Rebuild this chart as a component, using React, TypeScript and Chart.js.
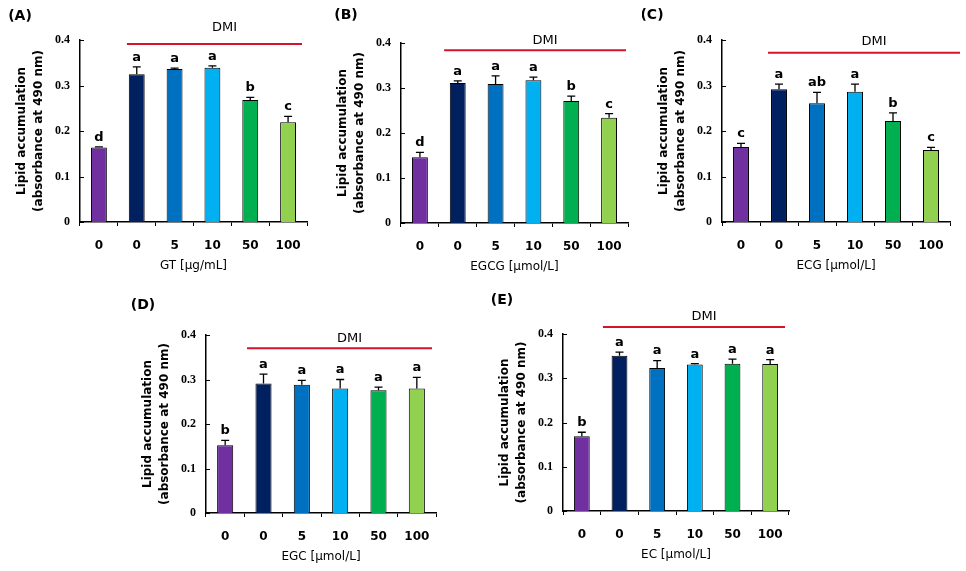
import React, { useEffect, useRef } from "react";
import { Chart, registerables } from "chart.js";

Chart.register(...registerables);

// ---------- data ----------
const categories = ["0", "0", "5", "10", "50", "100"];
const barColors = ["#7030A0", "#002060", "#0070C0", "#00B0F0", "#00B050", "#92D050"];
const yTicks = [0, 0.1, 0.2, 0.3, 0.4];
const yTickLabels = ["0", "0.1", "0.2", "0.3", "0.4"];

const gtMeans = [0.164, 0.325, 0.336, 0.339, 0.268, 0.219];
const gtErrors = [0.001, 0.016, 0.002, 0.004, 0.006, 0.013];
const gtLetters = ["d", "a", "a", "a", "b", "c"];

const egcgMeans = [0.146, 0.311, 0.309, 0.317, 0.271, 0.234];
const egcgErrors = [0.011, 0.005, 0.018, 0.007, 0.011, 0.009];
const egcgLetters = ["d", "a", "a", "a", "b", "c"];

const ecgMeans = [0.165, 0.292, 0.261, 0.286, 0.222, 0.158];
const ecgErrors = [0.008, 0.011, 0.024, 0.017, 0.018, 0.006];
const ecgLetters = ["c", "a", "ab", "a", "b", "c"];

const egcMeans = [0.152, 0.291, 0.288, 0.28, 0.276, 0.28];
const egcErrors = [0.011, 0.021, 0.01, 0.02, 0.007, 0.025];
const egcLetters = ["b", "a", "a", "a", "a", "a"];

const ecMeans = [0.169, 0.351, 0.323, 0.331, 0.333, 0.332];
const ecErrors = [0.009, 0.008, 0.017, 0.002, 0.01, 0.01];
const ecLetters = ["b", "a", "a", "a", "a", "a"];

const dmiLevels = [0.391, 0.384, 0.372, 0.37, 0.416];

// ---------- layout ----------
const PAD_L = 80;
const PAD_T = 45;
const PAD_R = 20;
const PAD_B = 55;

type PanelCfg = {
  label: string;
  xTitle: string;
  means: number[];
  errors: number[];
  letters: string[];
  dmiLevel: number;
  area: [number, number, number, number];
  labelPos: [number, number];
  dmiStart: number;
  dmiEndPx: number;
  dmiGap: number;
};

const panels: PanelCfg[] = [
  { label: "(A)", xTitle: "GT [µg/mL]", means: gtMeans, errors: gtErrors, letters: gtLetters, dmiLevel: dmiLevels[0],
    area: [80, 40, 307, 222], labelPos: [20, 16], dmiStart: 0.74, dmiEndPx: -5, dmiGap: 16 },
  { label: "(B)", xTitle: "EGCG [µmol/L]", means: egcgMeans, errors: egcgErrors, letters: egcgLetters, dmiLevel: dmiLevels[1],
    area: [401, 43, 628, 223], labelPos: [346, 15], dmiStart: 0.64, dmiEndPx: -2, dmiGap: 10 },
  { label: "(C)", xTitle: "ECG [µmol/L]", means: ecgMeans, errors: ecgErrors, letters: ecgLetters, dmiLevel: dmiLevels[2],
    area: [722, 40, 950, 222], labelPos: [652, 15], dmiStart: 0.71, dmiEndPx: 10, dmiGap: 11 },
  { label: "(D)", xTitle: "EGC [µmol/L]", means: egcMeans, errors: egcErrors, letters: egcLetters, dmiLevel: dmiLevels[3],
    area: [206, 335, 436, 513], labelPos: [143, 305], dmiStart: 0.57, dmiEndPx: -4, dmiGap: 10 },
  { label: "(E)", xTitle: "EC [µmol/L]", means: ecMeans, errors: ecErrors, letters: ecLetters, dmiLevel: dmiLevels[4],
    area: [563, 334, 789, 511], labelPos: [502, 300], dmiStart: 0.56, dmiEndPx: -4, dmiGap: 10 },
];

const SANS = "'DejaVu Sans', sans-serif";
const SERIF = "'Liberation Serif', serif";

function Panel({ cfg }: { cfg: PanelCfg }) {
  const ref = useRef<HTMLCanvasElement | null>(null);
  const [l, t, r, b] = cfg.area;
  const cLeft = l - PAD_L;
  const cTop = t - PAD_T;
  const cW = r - l + PAD_L + PAD_R;
  const cH = b - t + PAD_T + PAD_B;

  useEffect(() => {
    if (!ref.current) return;
    const overlay = {
      id: "overlay",
      afterDatasetsDraw(chart: any) {
        const ctx = chart.ctx as CanvasRenderingContext2D;
        const xs = chart.scales.x;
        const ys = chart.scales.y;
        const area = chart.chartArea;
        const meta = chart.getDatasetMeta(0);
        ctx.save();
        // inward y ticks
        ctx.strokeStyle = "#000";
        ctx.lineWidth = 1;
        yTicks.forEach((v) => {
          const y = Math.round(ys.getPixelForValue(v)) + 0.5;
          ctx.beginPath();
          ctx.moveTo(area.left, y);
          ctx.lineTo(area.left + 4, y);
          ctx.stroke();
        });
        // error bars + letters
        ctx.fillStyle = "#000";
        ctx.font = `bold 13px ${SANS}`;
        ctx.textAlign = "center";
        ctx.textBaseline = "bottom";
        cfg.means.forEach((m, i) => {
          const x = meta.data[i].x;
          const y0 = ys.getPixelForValue(m);
          const y1 = ys.getPixelForValue(m + cfg.errors[i]);
          ctx.lineWidth = 1.3;
          ctx.beginPath();
          ctx.moveTo(x, y0);
          ctx.lineTo(x, y1);
          ctx.moveTo(x - 4, y1);
          ctx.lineTo(x + 4, y1);
          ctx.stroke();
          ctx.fillText(cfg.letters[i], x, y1 - 3);
        });
        // DMI line
        const x0 = xs.getPixelForValue(cfg.dmiStart);
        const x1 = area.right + cfg.dmiEndPx;
        const yd = ys.getPixelForValue(cfg.dmiLevel);
        ctx.strokeStyle = "#d4142c";
        ctx.lineWidth = 2;
        ctx.beginPath();
        ctx.moveTo(x0, yd);
        ctx.lineTo(x1, yd);
        ctx.stroke();
        ctx.fillStyle = "#000";
        ctx.font = `13px ${SANS}`;
        ctx.textBaseline = "middle";
        ctx.fillText("DMI", (x0 + x1) / 2 + 10, yd - cfg.dmiGap);
        // panel label
        ctx.font = `bold 14px ${SANS}`;
        ctx.fillText(cfg.label, cfg.labelPos[0] - cLeft, cfg.labelPos[1] - cTop);
        ctx.restore();
      },
    };

    const chart = new Chart(ref.current, {
      type: "bar",
      data: {
        labels: categories,
        datasets: [
          {
            data: cfg.means,
            backgroundColor: barColors,
            borderColor: "#000",
            borderWidth: 1,
            barPercentage: 0.42,
            categoryPercentage: 1,
          },
        ],
      },
      options: {
        animation: false,
        responsive: false,
        devicePixelRatio: 1,
        layout: { padding: { left: 0, top: PAD_T, right: PAD_R, bottom: 0 } },
        plugins: { legend: { display: false }, tooltip: { enabled: false }, title: { display: false } },
        scales: {
          x: {
            offset: true,
            grid: { display: true, offset: true, drawOnChartArea: false, drawTicks: true, tickLength: 4, color: "#000", lineWidth: 1 },
            border: { display: true, color: "#000", width: 1.5 },
            ticks: { color: "#000", font: { family: SANS, size: 12, weight: "bold" }, padding: 13, maxRotation: 0 },
            title: { display: true, text: cfg.xTitle, color: "#000", font: { family: SANS, size: 12 }, padding: { top: 0, bottom: 4 } },
            afterFit: (s: any) => { s.height = PAD_B; },
          },
          y: {
            min: 0,
            max: 0.4,
            grid: { display: false, drawTicks: false },
            border: { display: true, color: "#000", width: 1.5 },
            ticks: {
              stepSize: 0.1,
              color: "#000",
              padding: 10,
              font: { family: SERIF, size: 12, weight: "bold" },
              callback: (v: any) => {
                const idx = yTicks.findIndex((tv) => Math.abs(tv - Number(v)) < 1e-9);
                return idx >= 0 ? yTickLabels[idx] : "";
              },
            },
            title: {
              display: true,
              text: ["Lipid accumulation", "(absorbance at 490 nm)"],
              color: "#000",
              font: { family: SANS, size: 12, weight: "bold", lineHeight: 1.45 },
              padding: { top: 13, bottom: 0 },
            },
            afterFit: (s: any) => { s.width = PAD_L; },
          },
        },
      },
      plugins: [overlay],
    } as any);
    return () => chart.destroy();
  }, []);

  return (
    <canvas
      ref={ref}
      width={cW}
      height={cH}
      style={{ position: "absolute", left: cLeft, top: cTop, width: cW, height: cH }}
    />
  );
}

export default function App() {
  return (
    <div style={{ position: "fixed", left: 0, top: 0, width: 966, height: 571, overflow: "hidden", background: "#fff" }}>
      {panels.map((p) => (
        <Panel key={p.label} cfg={p} />
      ))}
    </div>
  );
}
